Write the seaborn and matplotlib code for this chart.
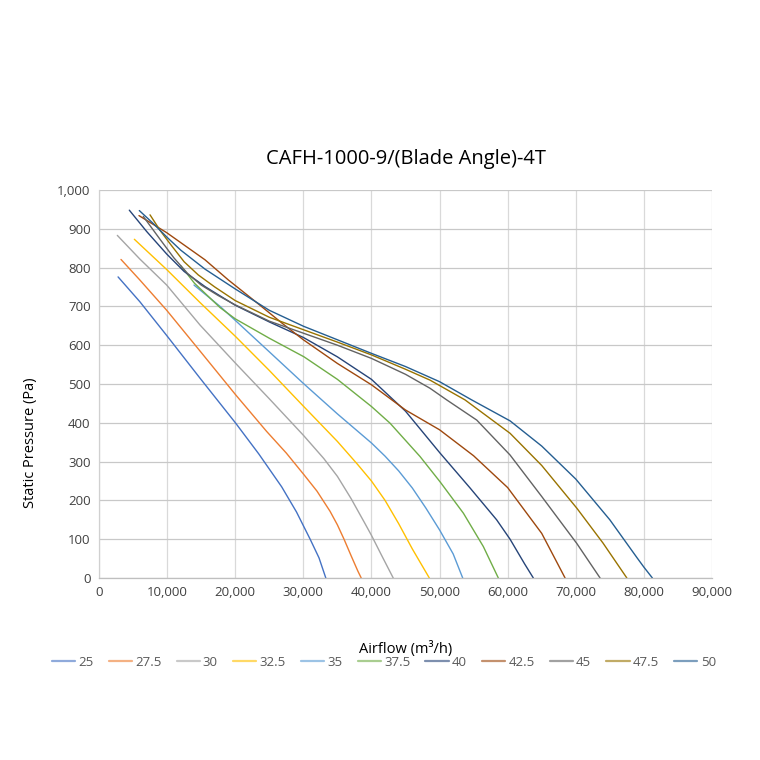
import matplotlib
matplotlib.use("Agg")
import matplotlib.pyplot as plt
import matplotlib.ticker as mticker
import seaborn as sns
import pandas as pd

# ---- data ----
angles = ["25", "27.5", "30", "32.5", "35", "37.5", "40", "42.5", "45", "47.5", "50"]

x_25 = [2800, 6000, 9940, 14830, 20070, 23450, 26820, 29000, 31000, 32300, 33300]
y_25 = [776, 712, 625, 515, 399, 320, 235, 170, 100, 52, 0]

x_275 = [3230, 6000, 9940, 14830, 20070, 24600, 27500, 30100, 32000, 33920, 35000, 36000, 37000, 38000, 38500]
y_275 = [821, 768, 690, 585, 472, 378, 322, 266, 224, 172, 137, 99, 58, 18, 0]

x_30 = [2690, 6000, 9940, 14830, 20070, 25000, 30000, 33000, 35000, 37000, 39000, 40000, 41500, 43200]
y_30 = [883, 822, 755, 652, 553, 462, 368, 308, 262, 205, 142, 110, 58, 0]

x_325 = [5190, 9940, 14830, 20070, 25000, 30000, 35000, 38000, 40000, 42000, 44000, 46000, 48500]
y_325 = [873, 795, 710, 622, 535, 443, 352, 292, 250, 200, 140, 75, 0]

x_35 = [13950, 17770, 20070, 25000, 30100, 35000, 40000, 42000, 44000, 46000, 48000, 50000, 52000, 53400]
y_35 = [755, 700, 663, 583, 500, 423, 348, 314, 276, 232, 180, 124, 62, 0]

x_375 = [12000, 14000, 17770, 20000, 25000, 30100, 35000, 40000, 42730, 47140, 50070, 53500, 56430, 58630]
y_375 = [805, 760, 697, 668, 618, 570, 512, 442, 399, 313, 248, 167, 81, 0]

x_40 = [4450, 7000, 9940, 12500, 15570, 20000, 25000, 30000, 35000, 40000, 45000, 50070, 54480, 58380, 60350, 62500, 63770]
y_40 = [948, 893, 835, 790, 751, 703, 660, 620, 570, 512, 430, 322, 232, 150, 100, 36, 0]

x_425 = [5870, 9940, 15570, 19000, 23000, 27000, 30000, 35000, 40000, 45000, 50000, 55000, 60000, 65000, 67000, 68430]
y_425 = [934, 890, 820, 768, 712, 655, 614, 553, 498, 433, 382, 315, 233, 115, 48, 0]

x_45 = [6500, 9000, 11000, 13000, 15000, 17500, 20000, 25000, 30000, 35000, 40000, 45000, 48600, 51050, 55460, 60350, 65000, 70150, 73570]
y_45 = [932, 872, 825, 785, 755, 728, 704, 662, 631, 600, 566, 525, 489, 459, 407, 317, 210, 89, 0]

x_475 = [7490, 9000, 10500, 12500, 14580, 17000, 20000, 25000, 30000, 35000, 40000, 45000, 48600, 53740, 60350, 65000, 70150, 74000, 77500]
y_475 = [936, 895, 860, 815, 781, 750, 715, 672, 640, 608, 575, 538, 510, 459, 373, 290, 180, 90, 0]

x_50 = [5920, 8000, 10000, 12000, 15570, 20000, 25000, 30000, 35000, 40000, 45000, 50000, 54720, 60350, 65000, 70000, 75000, 79000, 80000, 81250]
y_50 = [947, 913, 878, 845, 796, 745, 690, 649, 614, 579, 545, 506, 459, 405, 340, 255, 150, 52, 28, 0]

series_x = [x_25, x_275, x_30, x_325, x_35, x_375, x_40, x_425, x_45, x_475, x_50]
series_y = [y_25, y_275, y_30, y_325, y_35, y_375, y_40, y_425, y_45, y_475, y_50]

colors = ["#4472C4", "#ED7D31", "#A5A5A5", "#FFC000", "#5B9BD5", "#70AD47",
          "#264478", "#9E480E", "#636363", "#997300", "#255E91"]

x_ticks = [0, 10000, 20000, 30000, 40000, 50000, 60000, 70000, 80000, 90000]
y_ticks = [0, 100, 200, 300, 400, 500, 600, 700, 800, 900, 1000]

title = "CAFH-1000-9/(Blade Angle)-4T"
x_label = "Airflow (m³/h)"
y_label = "Static Pressure (Pa)"

# ---- build long-form table ----
rows = []
for a, xs, ys in zip(angles, series_x, series_y):
    for i, (xv, yv) in enumerate(zip(xs, ys)):
        rows.append({"angle": a, "order": i, "airflow": xv, "pressure": yv})
df = pd.DataFrame(rows)

sns.set_theme(style="white")
plt.rcParams["font.family"] = ["Open Sans", "DejaVu Sans"]

fig = plt.figure(figsize=(7.6, 7.6), dpi=100)
ax = fig.add_axes([99 / 760, 1 - 578 / 760, 613 / 760, 388 / 760])

sns.lineplot(data=df, x="airflow", y="pressure", hue="angle", hue_order=angles,
             palette=dict(zip(angles, colors)), estimator=None, sort=False,
             units="angle", linewidth=1.0, legend=False, ax=ax)

ax.set_xlim(0, 90000)
ax.set_ylim(0, 1000)
ax.set_xticks(x_ticks)
ax.set_yticks(y_ticks)
fmt = mticker.FuncFormatter(lambda v, p: f"{int(v):,}")
ax.xaxis.set_major_formatter(fmt)
ax.yaxis.set_major_formatter(fmt)
ax.tick_params(axis="both", length=0, labelsize=9.5, colors="#404040", pad=6)

ax.grid(True, axis="y", color="#C8C8C8", linewidth=0.9)
ax.grid(True, axis="x", color="#D9D9D9", linewidth=0.9)
ax.set_axisbelow(True)
for s in ["top", "right"]:
    ax.spines[s].set_visible(False)
ax.spines["left"].set_color("#D0D0D0")
ax.spines["left"].set_linewidth(0.9)
ax.spines["bottom"].set_color("#BFBFBF")
ax.spines["bottom"].set_linewidth(0.9)

ax.set_xlabel(x_label, fontsize=10.5, color="#000000")
ax.set_ylabel(y_label, fontsize=10.5, color="#000000")
ax.xaxis.set_label_coords(0.5, -0.162)
ax.yaxis.set_label_coords(-0.1, 0.348)
ax.set_title(title, fontsize=14.5, color="#000000", y=1.045)

handles = ax.get_lines()[:len(angles)]
leg = fig.legend(handles, angles, loc="center", bbox_to_anchor=(0.505, 1 - 662 / 760),
                 ncol=11, frameon=False, fontsize=9.5, handlelength=1.75,
                 handletextpad=0.25, columnspacing=1.15, labelcolor="#595959")
for lh in leg.get_lines():
    lh.set_linewidth(1.6)
    lh.set_alpha(0.6)

fig.savefig("out.png", dpi=100)
